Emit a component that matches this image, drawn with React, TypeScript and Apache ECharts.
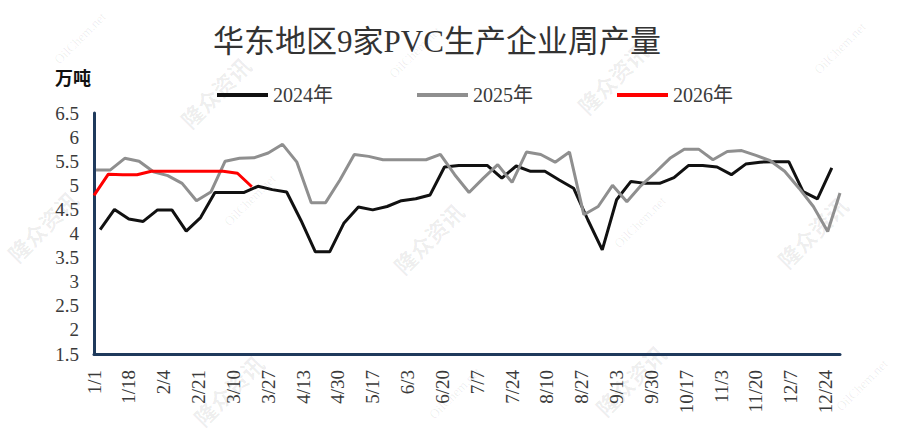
import React, { useEffect, useRef } from 'react';
import * as echarts from 'echarts';

const chartTitle = '华东地区9家PVC生产企业周产量';
const unitLabel = '万吨';
const seriesNames = ['2024年', '2025年', '2026年'];
const seriesColors = ['#111111', '#8f8f8f', '#ff0000'];
// day-of-year (0 = 1/1) of each series' first weekly reading
const firstDays = [3, 1, 0];

const values2024 = [
  4.08, 4.5, 4.3, 4.25, 4.49, 4.49, 4.05, 4.33, 4.85, 4.85, 4.85, 4.98, 4.91,
  4.86, 4.27, 3.62, 3.62, 4.22, 4.55, 4.49, 4.56, 4.68, 4.72, 4.8, 5.38, 5.41,
  5.41, 5.41, 5.15, 5.4, 5.29, 5.29, 5.11, 4.94, 4.28, 3.66, 4.7, 5.08, 5.04,
  5.04, 5.16, 5.41, 5.41, 5.38, 5.22, 5.44, 5.48, 5.49, 5.49, 4.87, 4.72, 5.36,
];
const values2025 = [
  5.32, 5.32, 5.56, 5.5, 5.28, 5.2, 5.04, 4.68, 4.86, 5.5, 5.56, 5.57, 5.67,
  5.85, 5.48, 4.64, 4.64, 5.11, 5.64, 5.6, 5.53, 5.53, 5.53, 5.53, 5.64, 5.22,
  4.85, 5.15, 5.43, 5.06, 5.69, 5.64, 5.48, 5.69, 4.39, 4.56, 5.0, 4.66, 5.0,
  5.27, 5.56, 5.75, 5.75, 5.53, 5.7, 5.72, 5.62, 5.51, 5.29, 4.94, 4.56, 4.04,
  4.84,
];
const values2026 = [4.79, 5.23, 5.22, 5.22, 5.29, 5.29, 5.29, 5.29, 5.29, 5.29, 5.25, 4.97];
const allValues = [values2024, values2025, values2026];

const yMin = 1.5;
const yMax = 6.5;
const yStep = 0.5;
const dayMax = 364;
const dayStep = 17;

const FONT = '"Liberation Serif", "Noto Sans CJK SC", serif';
const AXIS_COLOR = '#1f3a5c';
const TEXT_COLOR = '#3a3a3a';

function dayLabel(v: number): string {
  if (v % dayStep !== 0) return '';
  const d = new Date(Date.UTC(2025, 0, 1) + v * 86400000);
  return d.getUTCMonth() + 1 + '/' + d.getUTCDate();
}

const watermarksCn = [
  [215, 92], [612, 78], [428, 238], [812, 232], [42, 226], [228, 390], [630, 380],
];
const watermarksEn = [
  [80, 38], [415, 52], [840, 48], [250, 200], [640, 222], [862, 385], [455, 393],
];

export default function App() {
  const ref = useRef<HTMLDivElement>(null);
  useEffect(() => {
    if (!ref.current) return;
    const chart = echarts.init(ref.current, undefined, { renderer: 'svg' });
    const legendLeft = [217, 417, 617];
    const graphics: any[] = [];
    watermarksCn.forEach(([x, y]) =>
      graphics.push({
        type: 'text', x, y, rotation: Math.PI / 4, z: 0, silent: true,
        style: {
          text: '隆众资讯', fill: 'rgba(0,0,0,0.07)', fontSize: 22, fontWeight: 'bold',
          fontFamily: '"Noto Sans CJK SC", sans-serif', textAlign: 'center', textVerticalAlign: 'middle',
        },
      })
    );
    watermarksEn.forEach(([x, y]) =>
      graphics.push({
        type: 'text', x, y, rotation: Math.PI / 4, z: 0, silent: true,
        style: {
          text: 'OilChem.net', fill: 'rgba(0,0,0,0.07)', fontSize: 13,
          fontFamily: FONT, textAlign: 'center', textVerticalAlign: 'middle',
        },
      })
    );
    graphics.push({
      type: 'text', x: 437, y: 41, z: 10,
      style: {
        text: chartTitle, fill: '#333333', fontSize: 31, fontFamily: FONT,
        textAlign: 'center', textVerticalAlign: 'middle',
      },
    });
    graphics.push({
      type: 'text', x: 73, y: 77, z: 10,
      style: {
        text: unitLabel, fill: '#111111', fontSize: 18, fontWeight: 'bold',
        fontFamily: '"Noto Sans CJK SC", sans-serif', textAlign: 'center', textVerticalAlign: 'middle',
      },
    });

    chart.setOption({
      animation: false,
      backgroundColor: '#ffffff',
      graphic: graphics,
      legend: seriesNames.map((n, i) => ({
        data: [n],
        left: legendLeft[i],
        top: 85,
        padding: 0,
        icon: 'rect',
        itemWidth: 51,
        itemHeight: 4,
        textStyle: { fontSize: 20, fontFamily: FONT, color: TEXT_COLOR },
      })),
      grid: { left: 94, right: 58, top: 113, bottom: 79 },
      xAxis: {
        type: 'value',
        min: 0,
        max: dayMax,
        interval: dayStep,
        axisLine: { show: true, lineStyle: { color: AXIS_COLOR, width: 3 } },
        axisTick: { show: false },
        splitLine: { show: false },
        axisLabel: {
          rotate: 90,
          margin: 16,
          fontSize: 19,
          fontFamily: FONT,
          color: TEXT_COLOR,
          showMaxLabel: false,
          formatter: (v: number) => dayLabel(v),
        },
      },
      yAxis: {
        type: 'value',
        min: yMin,
        max: yMax,
        interval: yStep,
        axisLine: { show: true, lineStyle: { color: AXIS_COLOR, width: 3 } },
        axisTick: { show: false },
        splitLine: { show: false },
        axisLabel: { margin: 15, fontSize: 19, fontFamily: FONT, color: TEXT_COLOR },
      },
      series: seriesNames.map((n, i) => ({
        name: n,
        type: 'line',
        color: seriesColors[i],
        symbol: 'none',
        showSymbol: false,
        lineStyle: { width: 3, color: seriesColors[i] },
        z: 2 + i,
        data: allValues[i].map((v, k) => [Math.min(firstDays[i] + 7 * k, dayMax), v]),
      })),
    });
    return () => chart.dispose();
  }, []);
  return (
    <div
      ref={ref}
      style={{ position: 'fixed', left: 0, top: 0, width: 898, height: 433 }}
    />
  );
}
